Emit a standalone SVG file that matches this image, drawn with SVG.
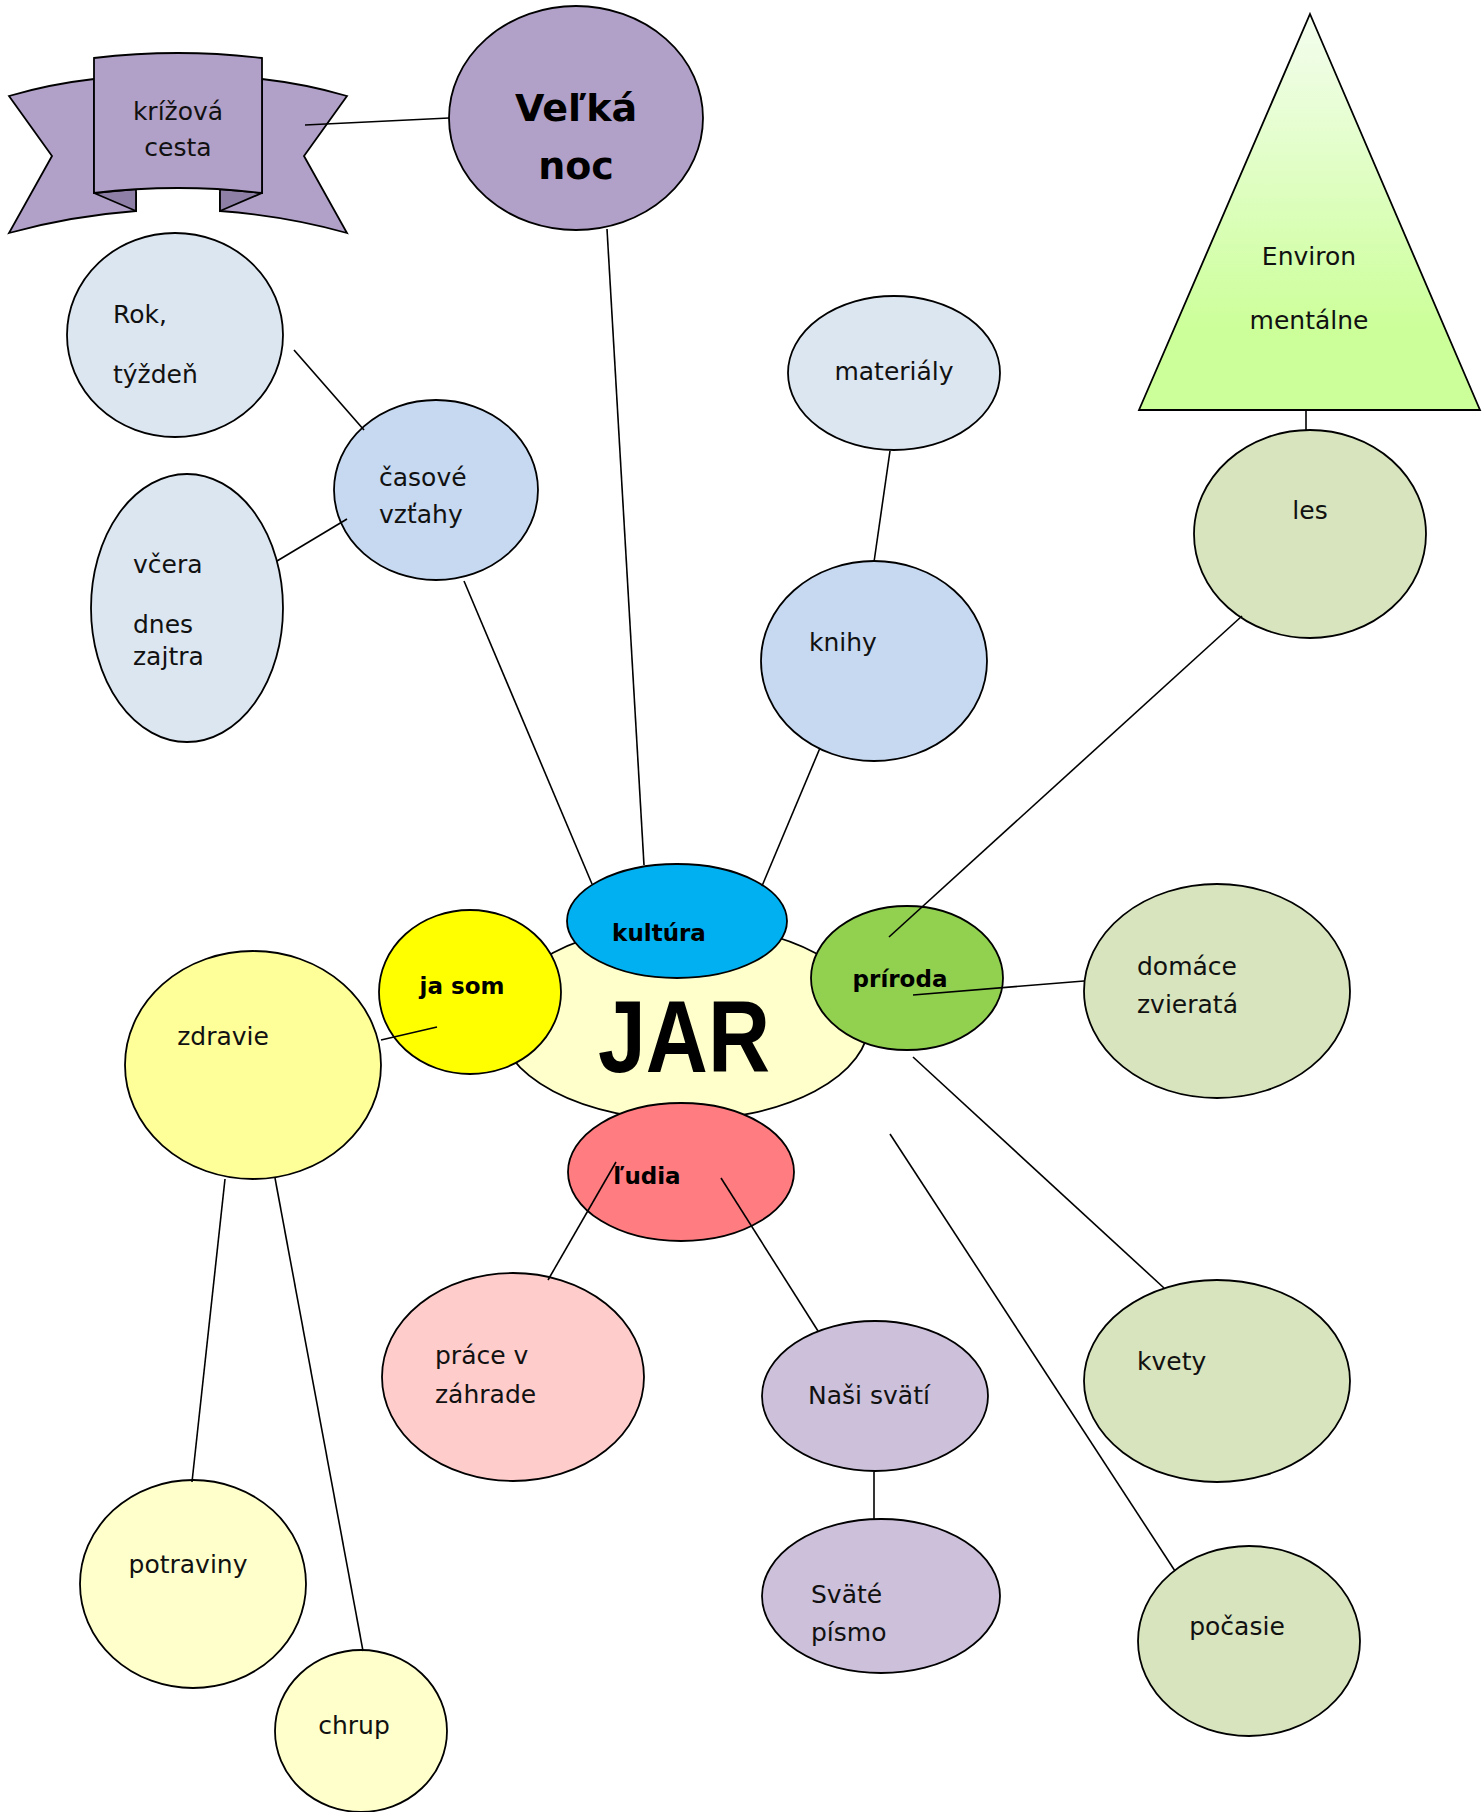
<svg xmlns="http://www.w3.org/2000/svg" width="1482" height="1812" viewBox="0 0 1482 1812">
<defs>
<linearGradient id="treeGrad" x1="0" y1="0" x2="0" y2="1">
<stop offset="0" stop-color="#f4fdef"/>
<stop offset="0.8" stop-color="#ccff99"/>
<stop offset="1" stop-color="#ccff99"/>
</linearGradient>
<style>
.n{stroke:#000;stroke-width:1.8}
.t{font-family:"DejaVu Sans","Liberation Sans",sans-serif;font-size:25px;fill:#111}
.b{font-family:"DejaVu Sans","Liberation Sans",sans-serif;font-size:23px;font-weight:bold;fill:#000}
.c{text-anchor:middle}
.ln{stroke:#000;stroke-width:1.6;fill:none}
</style>
</defs>
<rect width="1482" height="1812" fill="#fff"/>

<g id="node-krizova-cesta">
<path class="n" fill="#b1a0c7" d="M9,96 Q50,84 94,79 L94,193 L136,193 L136,211 Q70,216 9,233 L52,156 Z"/>
<path class="n" fill="#b1a0c7" d="M347,96 Q306,84 262,79 L262,193 L220,193 L220,211 Q286,216 347,233 L304,156 Z"/>
<path class="n" fill="#8e7fa6" d="M94,193 L136,189 L136,211 Z"/>
<path class="n" fill="#8e7fa6" d="M262,193 L220,189 L220,211 Z"/>
<path class="n" fill="#b1a0c7" d="M94,58 Q178,48 262,58 L262,193 Q178,183 94,193 Z"/>
<text class="t c" x="178" y="120">krížová</text>
<text class="t c" x="178" y="156">cesta</text>
</g>

<g id="node-velka-noc">
<ellipse class="n" fill="#b1a0c7" cx="576" cy="118" rx="127" ry="112"/>
<text class="b c" style="font-size:38px" x="576" y="121">Veľká</text>
<text class="b c" style="font-size:38px" x="576" y="179">noc</text>
</g>

<g id="node-rok">
<ellipse class="n" fill="#dce6f1" cx="175" cy="335" rx="108" ry="102"/>
<text class="t" x="113" y="323">Rok,</text>
<text class="t" x="113" y="383">týždeň</text>
</g>

<g id="node-casove">
<ellipse class="n" fill="#c6d9f1" cx="436" cy="490" rx="102" ry="90"/>
<text class="t" x="379" y="486">časové</text>
<text class="t" x="379" y="523">vzťahy</text>
</g>

<g id="node-vcera">
<ellipse class="n" fill="#dce6f1" cx="187" cy="608" rx="96" ry="134"/>
<text class="t" x="133" y="573">včera</text>
<text class="t" x="133" y="633">dnes</text>
<text class="t" x="133" y="665">zajtra</text>
</g>

<g id="node-materialy">
<ellipse class="n" fill="#dce6f1" cx="894" cy="373" rx="106" ry="77"/>
<text class="t c" x="894" y="380">materiály</text>
</g>

<g id="node-knihy">
<ellipse class="n" fill="#c6d9f1" cx="874" cy="661" rx="113" ry="100"/>
<text class="t" x="809" y="651">knihy</text>
</g>

<g id="node-environmentalne">
<polygon class="n" fill="url(#treeGrad)" points="1310,14 1480,410 1139,410"/>
<text class="t c" x="1309" y="265">Environ</text>
<text class="t c" x="1309" y="329">mentálne</text>
</g>

<g id="node-les">
<ellipse class="n" fill="#d7e4bd" cx="1310" cy="534" rx="116" ry="104"/>
<text class="t c" x="1310" y="519">les</text>
</g>

<g id="node-jar">
<ellipse class="n" fill="#ffffcc" cx="684" cy="1022" rx="185" ry="98"/>
<text x="684" y="1072" text-anchor="middle" font-family="Liberation Sans, DejaVu Sans, sans-serif" font-weight="bold" font-size="102" textLength="172" lengthAdjust="spacingAndGlyphs" fill="#000">JAR</text>
</g>

<g id="node-kultura">
<ellipse class="n" fill="#00b0f0" cx="677" cy="921" rx="110" ry="57"/>
<text class="b c" x="659" y="941">kultúra</text>
</g>

<g id="node-ja-som">
<ellipse class="n" fill="#ffff00" cx="470" cy="992" rx="91" ry="82"/>
<text class="b c" x="462" y="994">ja som</text>
</g>

<g id="node-priroda">
<ellipse class="n" fill="#92d050" cx="907" cy="978" rx="96" ry="72"/>
<text class="b c" x="900" y="987">príroda</text>
</g>

<g id="node-ludia">
<ellipse class="n" fill="#ff7c80" cx="681" cy="1172" rx="113" ry="69"/>
<text class="b c" x="647" y="1184">ľudia</text>
</g>

<g id="node-domace">
<ellipse class="n" fill="#d7e4bd" cx="1217" cy="991" rx="133" ry="107"/>
<text class="t" x="1137" y="975">domáce</text>
<text class="t" x="1137" y="1013">zvieratá</text>
</g>

<g id="node-kvety">
<ellipse class="n" fill="#d7e4bd" cx="1217" cy="1381" rx="133" ry="101"/>
<text class="t" x="1137" y="1370">kvety</text>
</g>

<g id="node-pocasie">
<ellipse class="n" fill="#d7e4bd" cx="1249" cy="1641" rx="111" ry="95"/>
<text class="t c" x="1237" y="1635">počasie</text>
</g>

<g id="node-zdravie">
<ellipse class="n" fill="#ffff99" cx="253" cy="1065" rx="128" ry="114"/>
<text class="t c" x="223" y="1045">zdravie</text>
</g>

<g id="node-potraviny">
<ellipse class="n" fill="#ffffcc" cx="193" cy="1584" rx="113" ry="104"/>
<text class="t c" x="188" y="1573">potraviny</text>
</g>

<g id="node-chrup">
<ellipse class="n" fill="#ffffcc" cx="361" cy="1731" rx="86" ry="81"/>
<text class="t c" x="354" y="1734">chrup</text>
</g>

<g id="node-prace">
<ellipse class="n" fill="#ffcccc" cx="513" cy="1377" rx="131" ry="104"/>
<text class="t" x="435" y="1364">práce v</text>
<text class="t" x="435" y="1403">záhrade</text>
</g>

<g id="node-nasi-svati">
<ellipse class="n" fill="#ccc0da" cx="875" cy="1396" rx="113" ry="75"/>
<text class="t c" x="869" y="1404">Naši svätí</text>
</g>

<g id="node-svate-pismo">
<ellipse class="n" fill="#ccc0da" cx="881" cy="1596" rx="119" ry="77"/>
<text class="t" x="811" y="1603">Sväté</text>
<text class="t" x="811" y="1641">písmo</text>
</g>

<g id="connectors">
<line class="ln" x1="305" y1="125" x2="449" y2="118"/>
<line class="ln" x1="607" y1="229" x2="644" y2="865"/>
<line class="ln" x1="294" y1="350" x2="364" y2="430"/>
<line class="ln" x1="277" y1="561" x2="347" y2="519"/>
<line class="ln" x1="464" y1="581" x2="592" y2="884"/>
<line class="ln" x1="890" y1="451" x2="874" y2="562"/>
<line class="ln" x1="820" y1="748" x2="762" y2="886"/>
<line class="ln" x1="1306" y1="410" x2="1306" y2="430"/>
<line class="ln" x1="1242" y1="616" x2="889" y2="937"/>
<line class="ln" x1="913" y1="995" x2="1084" y2="981"/>
<line class="ln" x1="913" y1="1057" x2="1164" y2="1288"/>
<line class="ln" x1="890" y1="1134" x2="1175" y2="1571"/>
<line class="ln" x1="381" y1="1040" x2="437" y2="1027"/>
<line class="ln" x1="225" y1="1179" x2="192" y2="1482"/>
<line class="ln" x1="275" y1="1178" x2="363" y2="1651"/>
<line class="ln" x1="616" y1="1162" x2="548" y2="1280"/>
<line class="ln" x1="721" y1="1178" x2="818" y2="1331"/>
<line class="ln" x1="874" y1="1472" x2="874" y2="1520"/>
</g>
</svg>
